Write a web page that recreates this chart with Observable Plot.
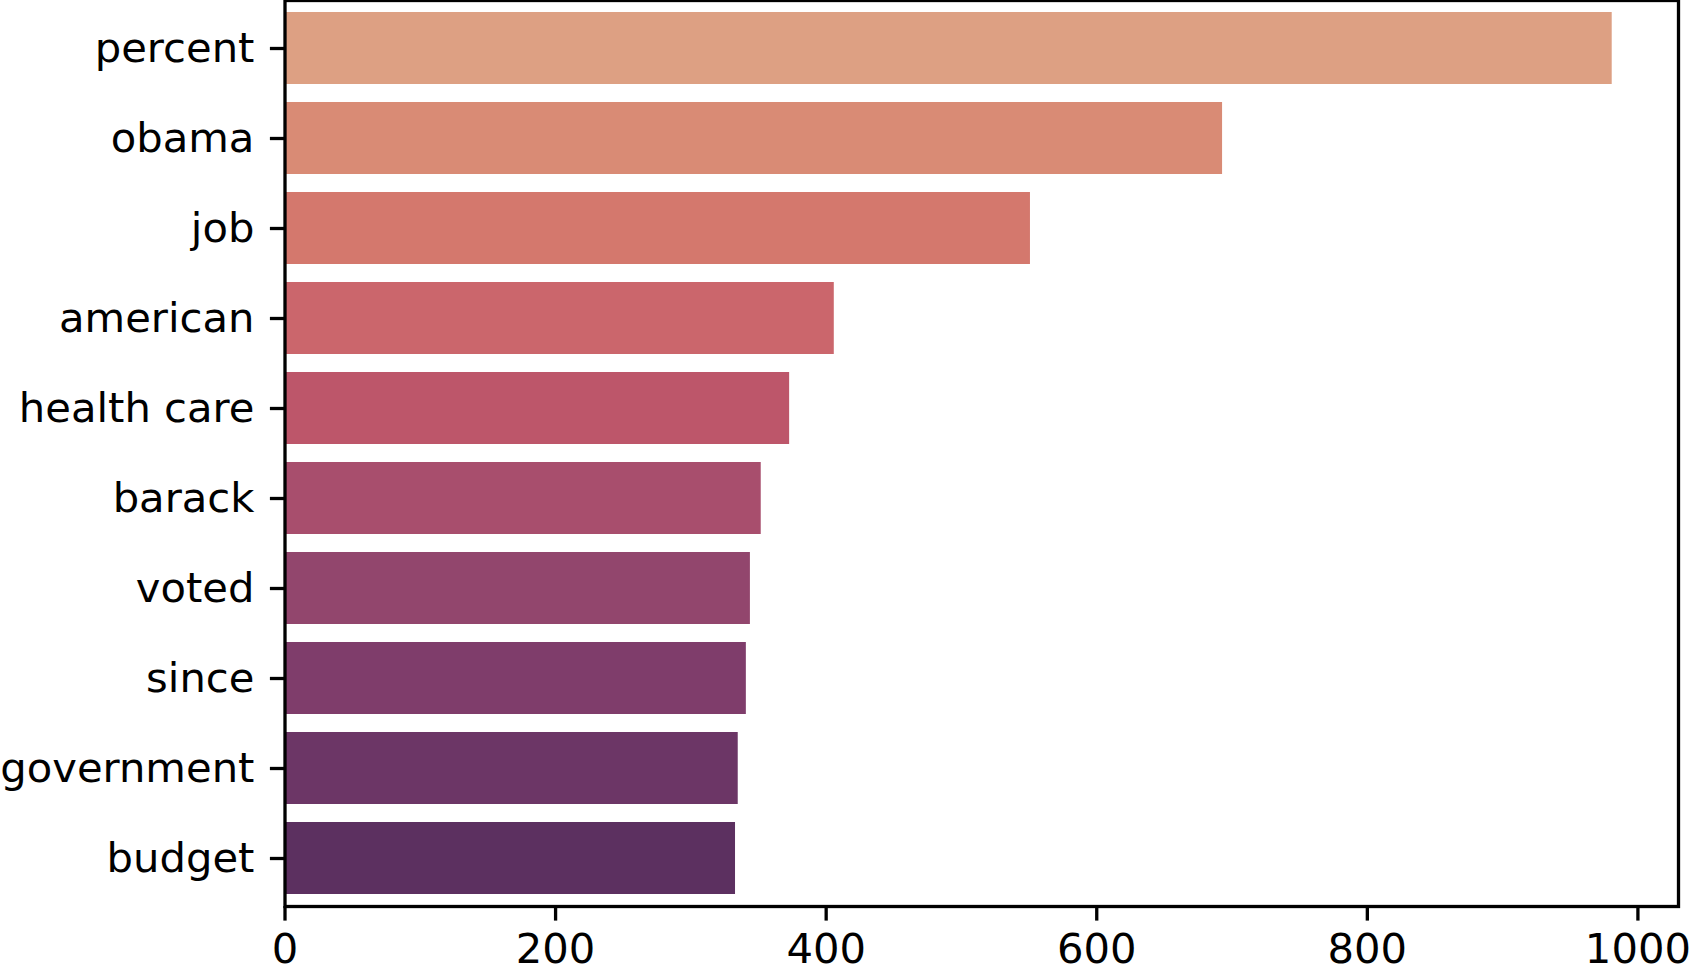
<!DOCTYPE html>
<html>
<head>
<meta charset="utf-8">
<script src="https://cdn.jsdelivr.net/npm/d3@7"></script>
<script src="https://cdn.jsdelivr.net/npm/@observablehq/plot@0.6"></script>
<style>
  html, body { margin: 0; padding: 0; background: #fff; }
  #chart svg { display: block; overflow: visible; }
</style>
</head>
<body>
<div id="chart"></div>
<script>
const words = ["percent", "obama", "job", "american", "health care", "barack", "voted", "since", "government", "budget"];
const counts = [981, 693, 551, 406, 373, 352, 344, 341, 335, 333];
const colors = ["#DDA083", "#D98B75", "#D4786D", "#CB666C", "#BD566A", "#A84E6D", "#92466D", "#7F3D6B", "#6C3666", "#5C3060"];
const xTicks = [0, 200, 400, 600, 800, 1000];

const data = words.map((w, i) => ({word: w, count: counts[i]}));

const fs = 41.7;
const lw = 3.3;

const chart = Plot.plot({
  width: 1689,
  height: 975,
  marginLeft: 284.5,
  marginRight: 11,
  marginTop: 0,
  marginBottom: 69,
  style: {fontFamily: "DejaVu Sans", fontSize: fs + "px", color: "black", background: "white"},
  x: {domain: [0, 1030]},
  y: {domain: words, paddingInner: 0.2, paddingOuter: 0.1},
  color: {domain: words, range: colors},
  marks: [
    Plot.barX(data, {x: "count", y: "word", fill: "word"}),
    Plot.frame({stroke: "black", strokeWidth: lw}),
    Plot.axisX({ticks: xTicks, tickFormat: d3.format("d"), tickSize: 14.6, tickPadding: 12, strokeWidth: lw, fontSize: fs, label: null}),
    Plot.axisY({tickSize: 14.6, tickPadding: 16, strokeWidth: lw, fontSize: fs, label: null})
  ]
});
document.getElementById("chart").appendChild(chart);
</script>
</body>
</html>
